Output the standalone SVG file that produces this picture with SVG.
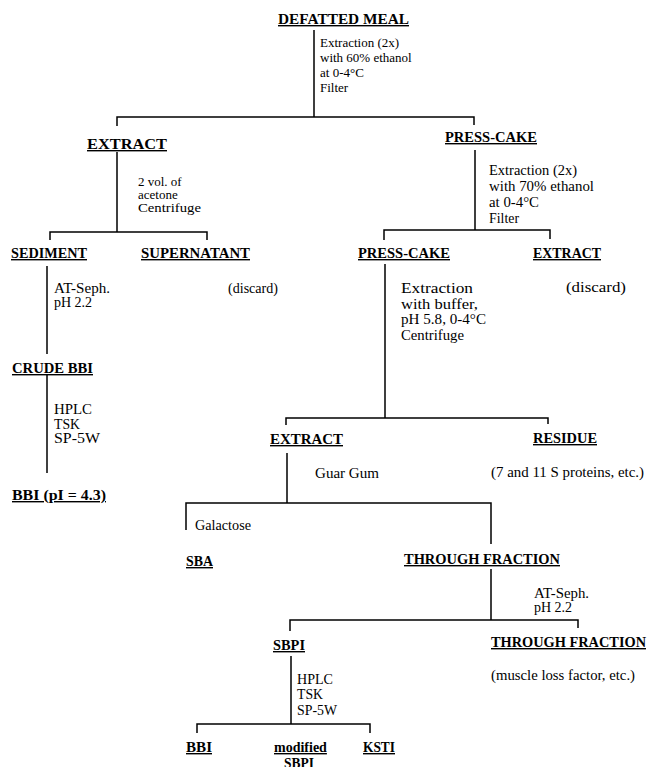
<svg xmlns="http://www.w3.org/2000/svg" width="647" height="767" viewBox="0 0 647 767">
<style>
.bg{fill:#fff}
text{font-family:"Liberation Serif","Times New Roman",serif;fill:#000}
.lbl{font-weight:bold;font-size:14px;text-decoration:underline}
.note{font-size:13px}
.n14{font-size:14px}
.n15{font-size:15px}
.ln{stroke:#000;stroke-width:1.5;fill:none}
</style>
<rect class="bg" x="0" y="0" width="647" height="767"/>
<g id="connectors">
<path class="ln" d="M314,30 V117 M117,126 V117 H474 V125"/>
<path class="ln" d="M117,152 V232 M50,240 V232 H207 V240"/>
<path class="ln" d="M47,266 V354"/>
<path class="ln" d="M47,374 V473"/>
<path class="ln" d="M475,150 V230 M384,240 V230 H550 V239"/>
<path class="ln" d="M385,264 V418 M286,425 V418 H548 V424"/>
<path class="ln" d="M287,453 V503 M186,530 V503 H491 V544"/>
<path class="ln" d="M491,569 V620 M290,631 V620 H578 V628"/>
<path class="ln" d="M291,656 V724 M197,733 V724 H370 V733"/>
</g>
<g id="defatted-meal"><text class="lbl" x="278" y="24" textLength="131" lengthAdjust="spacingAndGlyphs">DEFATTED MEAL</text></g>
<g id="step1"><text class="note" x="320" y="47">Extraction (2x)</text><text class="note" x="320" y="62">with 60% ethanol</text><text class="note" x="320" y="77">at 0-4°C</text><text class="note" x="320" y="92">Filter</text></g>
<g id="extract-1"><text class="lbl" x="87" y="149" textLength="80" lengthAdjust="spacingAndGlyphs">EXTRACT</text></g>
<g id="press-cake-1"><text class="lbl" x="445" y="142" textLength="92" lengthAdjust="spacingAndGlyphs">PRESS-CAKE</text></g>
<g id="step-acetone"><text class="note" x="138" y="185.5">2 vol. of</text><text class="note" x="138" y="198.5">acetone</text><text class="note" x="138" y="211.5" textLength="63" lengthAdjust="spacingAndGlyphs">Centrifuge</text></g>
<g id="step-70"><text class="n15" x="489" y="175" textLength="88" lengthAdjust="spacingAndGlyphs">Extraction (2x)</text><text class="n15" x="489" y="191" textLength="105" lengthAdjust="spacingAndGlyphs">with 70% ethanol</text><text class="n15" x="489" y="207" textLength="50" lengthAdjust="spacingAndGlyphs">at 0-4°C</text><text class="n15" x="489" y="223" textLength="30" lengthAdjust="spacingAndGlyphs">Filter</text></g>
<g id="sediment"><text class="lbl" x="11" y="258" textLength="76" lengthAdjust="spacingAndGlyphs">SEDIMENT</text></g>
<g id="supernatant"><text class="lbl" x="141" y="258" textLength="109" lengthAdjust="spacingAndGlyphs">SUPERNATANT</text><text class="n14" x="228" y="293" textLength="50" lengthAdjust="spacingAndGlyphs">(discard)</text></g>
<g id="press-cake-2"><text class="lbl" x="358" y="258" textLength="92" lengthAdjust="spacingAndGlyphs">PRESS-CAKE</text></g>
<g id="extract-discard"><text class="lbl" x="533" y="258" textLength="68" lengthAdjust="spacingAndGlyphs">EXTRACT</text><text class="n15" x="566" y="292" textLength="60" lengthAdjust="spacingAndGlyphs">(discard)</text></g>
<g id="step-atseph-1"><text class="n14" x="54" y="293" textLength="56" lengthAdjust="spacingAndGlyphs">AT-Seph.</text><text class="n14" x="54" y="307">pH 2.2</text></g>
<g id="step-buffer"><text class="n15" x="401" y="293" textLength="72" lengthAdjust="spacingAndGlyphs">Extraction</text><text class="n15" x="401" y="308.5" textLength="77" lengthAdjust="spacingAndGlyphs">with buffer,</text><text class="n15" x="401" y="324" textLength="85" lengthAdjust="spacingAndGlyphs">pH 5.8, 0-4°C</text><text class="n15" x="401" y="339.5" textLength="63" lengthAdjust="spacingAndGlyphs">Centrifuge</text></g>
<g id="crude-bbi"><text class="lbl" x="12" y="373" textLength="81" lengthAdjust="spacingAndGlyphs">CRUDE BBI</text></g>
<g id="step-hplc-1"><text class="n14" x="54" y="414" textLength="38" lengthAdjust="spacingAndGlyphs">HPLC</text><text class="n14" x="54" y="429" textLength="26" lengthAdjust="spacingAndGlyphs">TSK</text><text class="n14" x="54" y="443" textLength="46" lengthAdjust="spacingAndGlyphs">SP-5W</text></g>
<g id="bbi-pi"><text class="lbl" x="12" y="500" textLength="94" lengthAdjust="spacingAndGlyphs">BBI (pI = 4.3)</text></g>
<g id="extract-2"><text class="lbl" x="270" y="444" textLength="73" lengthAdjust="spacingAndGlyphs">EXTRACT</text></g>
<g id="residue"><text class="lbl" x="533" y="443" textLength="64" lengthAdjust="spacingAndGlyphs">RESIDUE</text><text class="n14" x="491" y="477" textLength="153" lengthAdjust="spacingAndGlyphs">(7 and 11 S proteins, etc.)</text></g>
<g id="step-guar"><text class="n14" x="315" y="478" textLength="64" lengthAdjust="spacingAndGlyphs">Guar Gum</text></g>
<g id="step-galactose"><text class="n14" x="195" y="530" textLength="56" lengthAdjust="spacingAndGlyphs">Galactose</text></g>
<g id="sba"><text class="lbl" x="186" y="566" textLength="27" lengthAdjust="spacingAndGlyphs">SBA</text></g>
<g id="through-1"><text class="lbl" x="404" y="564" textLength="156" lengthAdjust="spacingAndGlyphs">THROUGH FRACTION</text></g>
<g id="step-atseph-2"><text class="n14" x="534" y="598" textLength="55" lengthAdjust="spacingAndGlyphs">AT-Seph.</text><text class="n14" x="534" y="612">pH 2.2</text></g>
<g id="through-2"><text class="lbl" x="491" y="647" textLength="155" lengthAdjust="spacingAndGlyphs">THROUGH FRACTION</text><text class="n14" x="491" y="680" textLength="144" lengthAdjust="spacingAndGlyphs">(muscle loss factor, etc.)</text></g>
<g id="sbpi"><text class="lbl" x="273" y="650" textLength="32" lengthAdjust="spacingAndGlyphs">SBPI</text></g>
<g id="step-hplc-2"><text class="n14" x="297" y="684" textLength="36" lengthAdjust="spacingAndGlyphs">HPLC</text><text class="n14" x="297" y="699" textLength="26" lengthAdjust="spacingAndGlyphs">TSK</text><text class="n14" x="297" y="715" textLength="40" lengthAdjust="spacingAndGlyphs">SP-5W</text></g>
<g id="bbi"><text class="lbl" x="186" y="752" textLength="26" lengthAdjust="spacingAndGlyphs">BBI</text></g>
<g id="modified-sbpi"><text class="lbl" x="274" y="752">modified</text><text class="lbl" x="284" y="768" textLength="30" lengthAdjust="spacingAndGlyphs">SBPI</text></g>
<g id="ksti"><text class="lbl" x="363" y="752" textLength="32" lengthAdjust="spacingAndGlyphs">KSTI</text></g>
</svg>
